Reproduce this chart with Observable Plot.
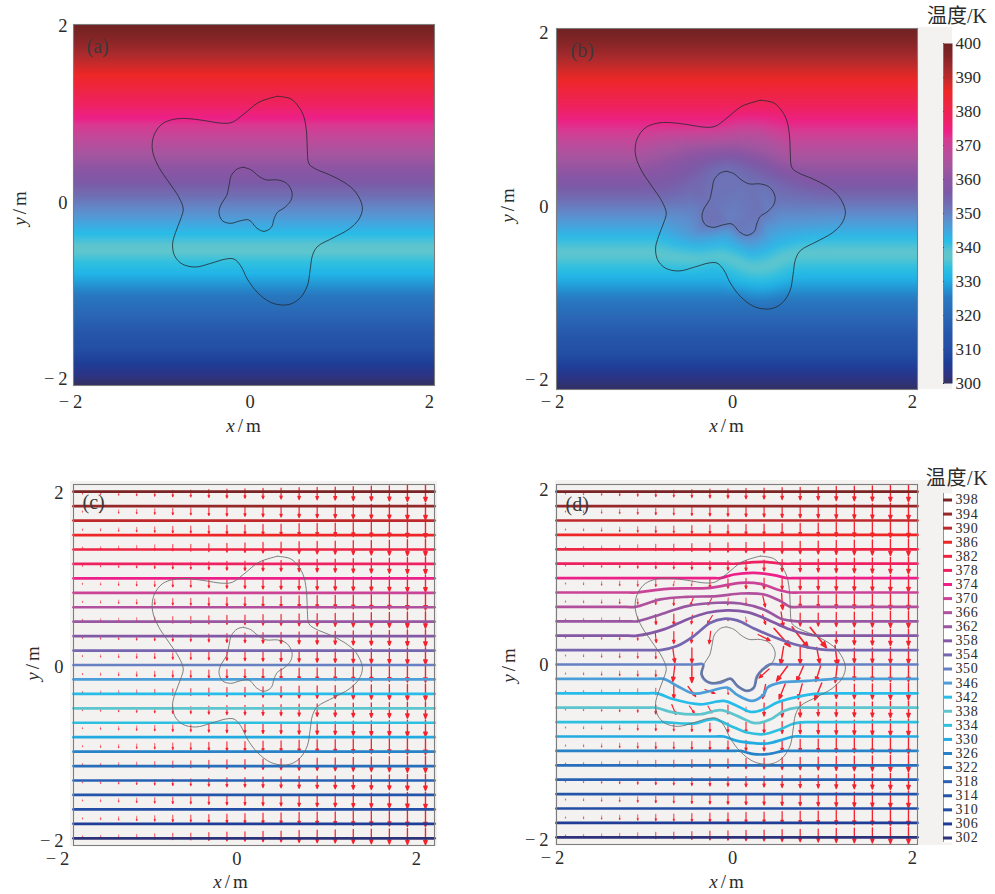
<!DOCTYPE html>
<html><head><meta charset="utf-8">
<style>html,body{margin:0;padding:0;background:#fff}#root{position:relative;width:995px;height:894px;overflow:hidden}
#root svg{position:absolute;background:transparent;overflow:visible;max-width:none}
.bg{position:absolute;background:#f3f2f1}</style>
<script src="https://cdn.jsdelivr.net/npm/d3@7"></script>
<script src="https://cdn.jsdelivr.net/npm/@observablehq/plot@0.6"></script>
</head><body><div id="root"></div>
<script>
// colour ramp (K -> colour)
const rampT = [300,303,306,310,315,320,325,328,331,334,337,339,342,345,348,352,356,360,364,368,372,374,378,382,386,389,392,396,400];
const rampC = ["#33305f","#2c3486","#1f3d96","#234ea5","#2657ab","#2a68b6","#2878c0","#2496d4","#22b5e8","#2fc0e0","#60c6cd","#5cc4cf","#28bce8","#44a5de","#5d90cf","#6e72b6","#7c5aa7","#8c55a3","#a5569f","#bd4b9b","#d83a92","#ec2088","#ee2260","#ee2443","#ee2726","#c92a2a","#a82a2d","#862527","#6e2222"];
// isotherm temperatures and their undisturbed height (m)
const isoT = [398,394,390,386,382,378,374,370,366,362,358,354,350,346,342,338,334,330,326,322,318,314,310,306,302];
const isoY = [1.92,1.76,1.6,1.44,1.28,1.12,.96,.8,.64,.48,.32,.16,0,-.16,-.32,-.48,-.64,-.8,-.96,-1.12,-1.28,-1.44,-1.6,-1.76,-1.92];
// isotherms bent by the device in panel (d): [x, y] in metres
const bend378 = [[0,1.12],[.187,1.137],[.298,1.141],[.445,1.126],[.519,1.12]];
const bend374 = [[-.183,.96],[-.035,1.0],[.187,1.018],[.408,.993],[.556,.96]];
const bend370 = [[-1.107,.8],[-.774,.841],[-.294,.852],[.039,.908],[.261,.896],[.445,.834],[.593,.8]];
const bend366 = [[-1.126,.64],[-.848,.723],[-.553,.752],[-.22,.76],[.039,.789],[.298,.778],[.482,.704],[.593,.64]];
const bend362 = [[-1.107,.48],[-.848,.556],[-.553,.649],[-.22,.686],[.039,.678],[.298,.612],[.482,.512],[.667,.48]];
const bend358 = [[-1.107,.32],[-.811,.39],[-.553,.501],[-.331,.575],[-.109,.601],[.113,.582],[.335,.501],[.556,.401],[.778,.335],[.889,.32]];
const bend354 = [[-.848,.16],[-.664,.205],[-.479,.316],[-.294,.464],[-.146,.508],[.002,.49],[.187,.401],[.408,.305],[.667,.216],[.926,.168],[1.111,.16]];
const bend350 = [[-.375,0],[-.394,-.109],[-.312,-.201],[-.183,-.201],[-.072,-.157],[.002,-.238],[.113,-.294],[.187,-.257],[.224,-.128],[.36,0]];
const bend346 = [[-.811,-.16],[-.664,-.238],[-.479,-.323],[-.294,-.294],[-.109,-.257],[.002,-.338],[.168,-.405],[.298,-.331],[.335,-.257],[.482,-.201],[.778,-.183],[1.074,-.16]];
const bend342 = [[-.885,-.32],[-.701,-.386],[-.405,-.442],[-.146,-.405],[.002,-.46],[.15,-.527],[.298,-.497],[.445,-.423],[.63,-.368],[.815,-.331],[1.074,-.32]];
const bend338 = [[-.904,-.48],[-.701,-.534],[-.405,-.553],[-.183,-.508],[.002,-.571],[.205,-.652],[.372,-.608],[.519,-.516],[.667,-.48]];
const bend334 = [[-.811,-.64],[-.479,-.656],[-.257,-.608],[-.072,-.682],[.113,-.756],[.298,-.774],[.482,-.719],[.63,-.656],[.778,-.64]];
const bend330 = [[-.146,-.8],[.002,-.848],[.187,-.874],[.335,-.878],[.519,-.83],[.63,-.8]];
const bend326 = [[.039,-.96],[.187,-.996],[.335,-.996],[.519,-.96]];
const bends = {378:bend378,374:bend374,370:bend370,366:bend366,362:bend362,358:bend358,354:bend354,350:bend350,346:bend346,342:bend342,338:bend338,334:bend334,330:bend330,326:bend326};
// device outlines (m)
const outerShape = [[.259,1.205],[.407,1.176],[.499,1.083],[.554,.973],[.584,.788],[.591,.603],[.61,.455],[.684,.399],[.832,.337],[.998,.252],[1.128,.141],[1.201,-.026],[1.164,-.155],[1.054,-.266],[.887,-.359],[.702,-.462],[.647,-.562],[.621,-.728],[.591,-.895],[.517,-1.024],[.425,-1.09],[.325,-1.109],[.185,-1.079],[.037,-.968],[-.074,-.82],[-.148,-.673],[-.222,-.599],[-.314,-.599],[-.481,-.647],[-.647,-.687],[-.795,-.654],[-.88,-.562],[-.902,-.432],[-.869,-.303],[-.813,-.155],[-.784,-.044],[-.832,.085],[-.943,.252],[-1.054,.418],[-1.117,.566],[-1.128,.677],[-1.102,.788],[-1.017,.899],[-.887,.95],[-.74,.958],[-.555,.936],[-.351,.906],[-.24,.917],[-.111,1.009],[.055,1.139]];
const innerShape = [[-.118,.418],[-.037,.392],[.055,.318],[.137,.278],[.259,.278],[.362,.24],[.421,.141],[.407,.048],[.333,-.033],[.259,-.081],[.222,-.155],[.192,-.248],[.111,-.292],[.03,-.255],[-.056,-.166],[-.148,-.174],[-.259,-.203],[-.351,-.174],[-.388,-.081],[-.362,.011],[-.303,.104],[-.277,.215],[-.252,.326],[-.185,.4]];
// heat flux arrows: grid, downward flux per column, and deflected arrows in (d): [x, y, fx, fy]
const gridU = [-1.9,-1.7,-1.5,-1.3,-1.1,-.9,-.7,-.5,-.3,-.1,.1,.3,.5,.7,.9,1.1,1.3,1.5,1.7,1.9];
const gridV = [1.9,1.7,1.5,1.3,1.1,.9,.7,.5,.3,.1,-.1,-.3,-.5,-.7,-.9,-1.1,-1.3,-1.5,-1.7,-1.9];
const fluxByColumn = [1.5,2.5,3.5,4.5,5.5,6.5,7,8,9,9.5,10.5,11,12,12.5,13,14,14.5,15,16,16.5];
const deflected = [
[-.9,.9,0,6],[-.7,.9,-1,5],[-.5,.9,-1,5],
[-.9,.7,0,6],[-.9,.5,.5,10],[-.9,.3,1,10],[-.9,-.5,0,9],
[-.7,.7,-.3,8],[-.7,.5,0,11],[-.7,.3,0,12],[-.7,.1,2,14.5],[-.7,-.1,-2,16],[-.7,-.3,0,14],[-.7,-.5,4,10],
[-.5,.7,-3,8],[-.5,.5,-1,9],[-.5,.3,-1,11],[-.5,.1,0,15],[-.5,-.1,0,18],[-.5,-.3,7.7,10],[-.5,-.5,5,7],
[-.3,.7,-4,7],[-.3,.5,-5,8],[-.3,.3,-1.5,12.5],[-.3,-.3,10,4],[-.3,-.5,4,7],
[-.1,.7,-.5,7],[-.1,.5,0,3],[-.1,-.3,.5,6],[-.1,-.5,0,9],
[.1,.7,0,7],[.1,.5,1,5],[.1,-.5,0,5],
[.3,.7,2.5,11],[.3,.5,3,10],[.3,.3,12,6],[.3,-.1,-10,9],[.3,-.3,-3,14],[.3,-.5,0,13],
[.5,.7,1,16],[.5,.5,2,15],[.5,.3,16,18],[.5,.1,-3,18],[.5,-.1,-11,15],[.5,-.3,-6,15],[.5,-.5,0,15],
[.7,.7,0,12],[.7,.5,0,13],[.7,.3,16,21],[.7,.1,0,17],[.7,-.1,-7,16],[.7,-.3,-4,15],[.7,-.5,0,15],
[.9,.7,0,12.5],[.9,.5,0,13],[.9,.3,16,20],[.9,.1,3,16],[.9,-.1,-5,16],[.9,-.3,-7,17],
[1.1,.3,0,12],[1.1,.1,2.5,20],[1.1,-.1,-2,18],[1.1,-.3,0,14]];
const holeCells = [[-.3,.1],[-.3,-.1],[-.1,.3],[-.1,.1],[-.1,-.1],[.1,.3],[.1,.1],[.1,-.1],[.1,-.3],[.3,.1]];
const innerT = 352;
const colorbarTicks = [300,310,320,330,340,350,360,370,380,390,400];
const axisTicks = [-2,0,2];

const root = document.getElementById("root");
const font = "'Liberation Serif','Noto Sans CJK SC',serif";
const color = {type:"linear", domain:rampT, range:rampC, clamp:true};
const fmt = d => d < 0 ? "\u2212\u2009" + Math.abs(d) : String(d);
const closed = s => [...s, s[0]];

function place(svg, left, top) {
  svg.style.left = left + "px"; svg.style.top = top + "px";
  svg.querySelectorAll("text").forEach(t => {
    const s = t.textContent;
    if (s === "x/m" || s === "y/m") t.innerHTML = `<tspan font-style="italic">${s[0]}</tspan><tspan dx="3">/</tspan><tspan dx="3">m</tspan>`;
  });
  root.appendChild(svg);
}
function bg(l, t, r, b) {
  const d = document.createElement("div"); d.className = "bg";
  d.style.cssText = `left:${l}px;top:${t}px;width:${r-l}px;height:${b-t}px`;
  root.appendChild(d);
}
// densify polylines to sample the temperature field for the rasters
function densify(pts, T, out) {
  for (let i = 0; i + 1 < pts.length; i++) {
    const [a, b] = [pts[i], pts[i+1]];
    const n = Math.max(1, Math.ceil(Math.hypot(b[0]-a[0], b[1]-a[1]) / .08));
    for (let j = 0; j <= n; j++) out.push({u:a[0]+(b[0]-a[0])*j/n, v:a[1]+(b[1]-a[1])*j/n, T});
  }
}
const flatLines = isoT.map((T,i) => ({T, pts:[[-2,isoY[i]],[2,isoY[i]]]}));
const bentLines = isoT.map((T,i) => {
  const y = isoY[i], b = bends[T];
  if (!b) return {T, pts:[[-2,y],[2,y]]};
  return {T, pts:[[-2,y],[b[0][0]-.1,y],...b,[b[b.length-1][0]+.1,y],[2,y]]};
});
const edges = [{T:400,pts:[[-2,2],[2,2]]},{T:300,pts:[[-2,-2],[2,-2]]}];
function samples(lines, withInner) {
  const out = [];
  for (const l of [...edges, ...lines]) densify(l.pts, l.T, out);
  if (withInner) densify(closed(innerShape), innerT, out);
  return out;
}
const lineRows = lines => lines.flatMap(l => l.pts.map(p => ({u:p[0], v:p[1], T:l.T})));

function arrows(deflect) {
  const rows = [];
  gridU.forEach((u,i) => gridV.forEach(v => {
    let fx = 0, fy = fluxByColumn[i];
    if (deflect) {
      if (holeCells.some(h => h[0]===u && h[1]===v)) return;
      const d = deflected.find(d => d[0]===u && d[1]===v);
      if (d) { fx = d[2]; fy = d[3]; }
    }
    rows.push({u, v, len:Math.hypot(fx,fy), rot:Math.atan2(fx,-fy)*180/Math.PI});
  }));
  return rows;
}
const arrowShape = {draw(c, l) {
  const h = Math.min(5.5, Math.max(.7, l*.26)), w = h*.4;
  c.moveTo(0,0); c.lineTo(0,-l);
  c.moveTo(-w,h-l); c.lineTo(0,-l); c.lineTo(w,h-l); c.closePath();
}};

function panel(p) {
  const k = 60, W = 361, H = p.b - p.t;
  const X = u => p.xd[0] + (u+2)/4*(p.xd[1]-p.xd[0]);
  const Y = v => p.yd[0] + (v+2)/4*(p.yd[1]-p.yd[0]);
  const marks = [];
  if (p.field) marks.push(Plot.raster(p.field, {x:d=>X(d.u), y:d=>Y(d.v), fill:"T", interpolate:"barycentric", blur:p.blur||0}));
  else marks.push(Plot.frame({fill:"#f3f2f1", stroke:"none"}));
  if (p.arrows) marks.push(Plot.vector(p.arrows, {x:d=>X(d.u), y:d=>Y(d.v), length:"len", rotate:"rot", anchor:"middle", shape:arrowShape, stroke:"#f5222d", fill:"#f5222d", strokeWidth:d=>.75+d.len/26, strokeOpacity:d=>Math.min(1,.3+d.len/12)}));
  if (p.iso) marks.push(Plot.line(p.iso, {x:d=>X(d.u), y:d=>Y(d.v), z:"T", stroke:"T", strokeWidth:2.7, curve:"catmull-rom"}));
  for (const s of [outerShape, innerShape])
    marks.push(Plot.line(closed(s), {x:d=>X(d[0]), y:d=>Y(d[1]), curve:"catmull-rom", stroke:p.outline, strokeWidth:p.outlineW}));
  marks.push(
    Plot.frame({stroke:"#7d7d7d", strokeWidth:1.1}),
    Plot.axisX({ticks:axisTicks, tickFormat:fmt, tickSize:0, tickPadding:p.xPad, label:null}),
    Plot.axisY({ticks:axisTicks, tickFormat:fmt, tickSize:0, tickPadding:p.yPad, label:null}),
    Plot.text([p.tag], {frameAnchor:"top-left", dx:p.tagD[0], dy:p.tagD[1], lineAnchor:"middle", fontSize:20, fill:"#3a3a3a"}),
    Plot.text(["x/m"], {frameAnchor:"bottom", dx:p.xl[0], dy:p.xl[1], lineAnchor:"middle", fontSize:19}),
    Plot.text(["y/m"], {frameAnchor:"left", dx:p.yl[0], dy:p.yl[1], rotate:-90, textAnchor:"middle", lineAnchor:"middle", fontSize:19})
  );
  const svg = Plot.plot({
    width:k+W+5, height:5+H+50, marginLeft:k, marginRight:5, marginTop:5, marginBottom:50,
    x:{domain:p.xd}, y:{domain:p.yd}, color, length:{type:"identity"},
    style:{fontFamily:font, fontSize:"18.5px", color:"#2b2b2b", background:"transparent", overflow:"visible"},
    marks
  });
  place(svg, p.l-k, p.t-5);
}

bg(917,27,952,389); bg(70,481,437,846); bg(555,480,952,845);

panel({l:73,t:24,b:385,xd:[-1.967,2.056],yd:[-2.068,2.023],field:samples(flatLines,false),outline:"#23282e",outlineW:.8,
  xPad:9,yPad:6,tag:"(a)",tagD:[13,22],xl:[-10.5,40],yl:[-54,3.5]});
panel({l:556,t:28,b:389,xd:[-1.956,2.056],yd:[-2.104,2.058],field:samples(bentLines,true),blur:3,outline:"#23282e",outlineW:.8,
  xPad:5,yPad:8,tag:"(b)",tagD:[14,22],xl:[-10.5,36],yl:[-49,-3.5]});
panel({l:73,t:484,b:845,xd:[-1.822,2.201],yd:[-2.056,2.101],arrows:arrows(false),iso:lineRows(flatLines),outline:"#6a6a6a",outlineW:.85,
  xPad:6,yPad:10,tag:"(c)",tagD:[9,18],xl:[-23.5,36],yl:[-41,-1.5]});
panel({l:556,t:484,b:844,xd:[-1.956,2.056],yd:[-2.046,2.069],arrows:arrows(true),iso:lineRows(bentLines),outline:"#6a6a6a",outlineW:.85,
  xPad:6,yPad:8,tag:"(d)",tagD:[9,20],xl:[-10.5,37],yl:[-48,1]});

// colour bar of (b)
const barSamples = d3.range(300,401,1).flatMap(T => [{b:0,T},{b:1,T}]);
place(Plot.plot({
  width:70, height:395, marginLeft:18, marginRight:43, marginTop:43, marginBottom:12,
  x:{domain:[0,1], axis:null}, y:{domain:[300,400]}, color,
  style:{fontFamily:font, fontSize:"17px", color:"#2b2b2b", background:"transparent", overflow:"visible"},
  marks:[
    Plot.raster(barSamples, {x:"b", y:"T", fill:"T", interpolate:"barycentric"}),
    Plot.ruleY(colorbarTicks, {y:d=>d, x1:0, x2:.12, stroke:"#222", strokeWidth:1}),
    Plot.axisY({anchor:"right", ticks:colorbarTicks, tickSize:0, tickPadding:3, label:null}),
    Plot.ruleX([0], {stroke:"#666", strokeWidth:.7}),
    Plot.text(["温度/K"], {frameAnchor:"top", dx:9, dy:-27, lineAnchor:"middle", fontSize:20})
  ]
}), 925, 0);

// isotherm key of (d)
place(Plot.plot({
  width:70, height:390, marginLeft:18, marginRight:43, marginTop:33, marginBottom:8,
  x:{domain:[0,1], axis:null}, y:{domain:[302,398], range:[377.5,39.5]}, color,
  style:{fontFamily:font, fontSize:"14px", letterSpacing:"0.6px", color:"#2b2b2b", background:"transparent", overflow:"visible"},
  marks:[
    Plot.frame({fill:"#fff", stroke:"none"}),
    Plot.ruleX([0], {stroke:"#777", strokeWidth:.8}),
    Plot.ruleY(isoT, {y:d=>d, stroke:d=>d, strokeWidth:3}),
    Plot.axisY({anchor:"right", ticks:isoT, tickFormat:String, tickSize:0, tickPadding:3, label:null}),
    Plot.text(["温度/K"], {frameAnchor:"top", dx:9, dy:-15, lineAnchor:"middle", fontSize:20})
  ]
}), 925, 460);
</script></body></html>
